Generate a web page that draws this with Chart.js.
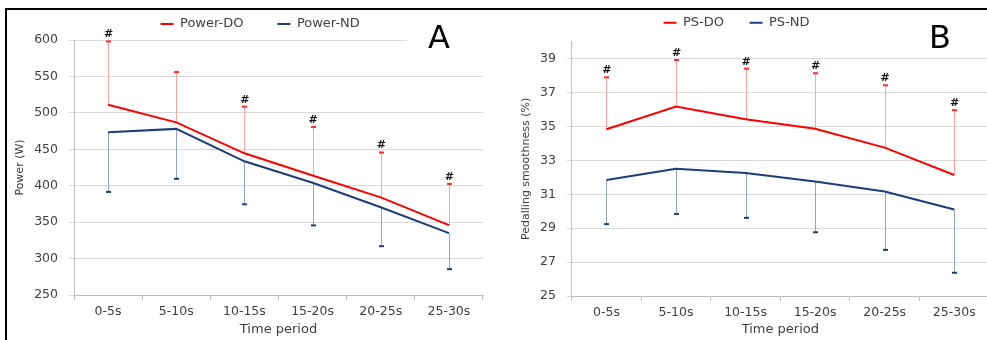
<!DOCTYPE html>
<html>
<head>
<meta charset="utf-8">
<script src="https://cdn.jsdelivr.net/npm/chart.js@4.4.1/dist/chart.umd.min.js"></script>
<style>
  html, body { margin: 0; padding: 0; background: #fff; overflow: hidden; width: 987px; height: 340px; }
  #wrapA { position: absolute; left: 0; top: 0; width: 490px; height: 340px; }
  #wrapB { position: absolute; left: 490px; top: 0; width: 499px; height: 340px; }
  #frameTop { position: absolute; left: 5px; top: 8px; width: 982px; height: 2px; background: #000; z-index: 5; }
  #frameLeft { position: absolute; left: 5px; top: 8px; width: 2px; height: 332px; background: #000; z-index: 5; }
  .panel { position: absolute; font-family: 'DejaVu Sans'; font-size: 32px; line-height: 32px; height: 32px; color: #000; z-index: 4; }
  #labA { left: 407px; top: 21px; width: 55px; padding-left: 21px; background: #fff; }
  #labB { left: 929px; top: 21px; }
</style>
</head>
<body>
<div id="wrapA"><canvas id="chartA"></canvas></div>
<div id="wrapB"><canvas id="chartB"></canvas></div>
<div id="frameTop"></div>
<div id="frameLeft"></div>
<div class="panel" id="labA">A</div>
<div class="panel" id="labB">B</div>
<script>
// ---------- data ----------
const categories = ['0-5s', '5-10s', '10-15s', '15-20s', '20-25s', '25-30s'];

const powerDO      = [511, 487, 444.5, 414, 384, 346];
const powerDOUpper = [598, 556, 508.5, 480.5, 445.5, 402.5];
const powerND      = [473.5, 478, 433.5, 404, 370.5, 335];
const powerNDLower = [391.5, 409.5, 374.5, 345.5, 317, 285.5];
const powerMarks   = ['#', '', '#', '#', '#', '#'];
const powerTicks   = [250, 300, 350, 400, 450, 500, 550, 600];

const psDO      = [34.84, 36.18, 35.43, 34.86, 33.75, 32.14];
const psDOUpper = [37.9, 38.92, 38.41, 38.14, 37.43, 35.96];
const psND      = [31.84, 32.51, 32.25, 31.76, 31.16, 30.10];
const psNDLower = [29.24, 29.84, 29.61, 28.76, 27.72, 26.37];
const psMarks   = ['#', '#', '#', '#', '#', '#'];
const psTicks   = [25, 27, 29, 31, 33, 35, 37, 39];

// ---------- style ----------
const FONT = 'DejaVu Sans';
const TXT = '#404040';
const RED = '#FF0000';
const NAVY = '#1F3C7A';

// error bars + significance marks
const errorBars = {
  id: 'errorBars',
  beforeDatasetsDraw(chart) {
    const ctx = chart.ctx, xs = chart.scales.x, ys = chart.scales.y;
    chart.data.datasets.forEach((ds) => {
      if (!ds.errEnd) return;
      ds.data.forEach((v, i) => {
        const px = Math.round(xs.getPixelForValue(i)) + 0.5;
        const p0 = ys.getPixelForValue(v);
        const p1 = ys.getPixelForValue(ds.errEnd[i]);
        ctx.save();
        ctx.strokeStyle = ds.errColor;
        ctx.lineWidth = 1;
        ctx.beginPath(); ctx.moveTo(px, p0); ctx.lineTo(px, p1); ctx.stroke();
        ctx.strokeStyle = ds.capColor;
        ctx.lineWidth = 2;
        ctx.beginPath(); ctx.moveTo(px - 2.5, p1); ctx.lineTo(px + 2.5, p1); ctx.stroke();
        ctx.restore();
      });
    });
  },
  afterDatasetsDraw(chart) {
    const ctx = chart.ctx, xs = chart.scales.x, ys = chart.scales.y;
    chart.data.datasets.forEach((ds) => {
      if (!ds.marks) return;
      ds.marks.forEach((m, i) => {
        if (!m) return;
        const px = xs.getPixelForValue(i);
        const py = ys.getPixelForValue(ds.errEnd[i]) - 7;
        ctx.save();
        ctx.fillStyle = '#111';
        ctx.font = 'bold 11px "' + FONT + '"';
        ctx.textAlign = 'center';
        ctx.textBaseline = 'middle';
        ctx.fillText(m, px + 0.5, py);
        ctx.restore();
      });
    });
  }
};

// place legend at an exact start position
const legendPlace = {
  id: 'legendPlace',
  afterUpdate(chart, args, opts) {
    const lg = chart.legend;
    if (!lg) return;
    const p = lg.options.labels.padding;
    const fs = lg.options.labels.font.size;
    lg.left = opts.x - p;
    lg.right = lg.left + 2000;
    lg.top = opts.y - p - fs / 2;
    lg.bottom = opts.y + fs + 4;
  }
};

function makeChart(id, cfg) {
  return new Chart(document.getElementById(id), {
    type: 'line',
    data: {
      labels: categories,
      datasets: [
        { label: cfg.names[0], data: cfg.s1, borderColor: RED, backgroundColor: RED, borderWidth: 2,
          pointRadius: 0, tension: 0, errEnd: cfg.e1, errColor: '#FFA3A3', capColor: '#FF2A2A', marks: cfg.marks },
        { label: cfg.names[1], data: cfg.s2, borderColor: NAVY, backgroundColor: NAVY, borderWidth: 2,
          pointRadius: 0, tension: 0, errEnd: cfg.e2, errColor: '#95A3C2', capColor: NAVY }
      ]
    },
    options: {
      responsive: true,
      maintainAspectRatio: false,
      animation: false,
      layout: { padding: { left: cfg.padL, right: cfg.padR, top: 0, bottom: 0 } },
      plugins: {
        tooltip: { enabled: false },
        legend: {
          position: 'top',
          align: 'start',
          maxHeight: cfg.legendH,
          labels: {
            usePointStyle: true,
            pointStyle: 'line',
            pointStyleWidth: 13,
            padding: cfg.legendGap,
            color: TXT,
            font: { family: FONT, size: 13 }
          }
        },
        legendPlace: { x: cfg.legendX, y: cfg.legendY }
      },
      scales: {
        x: {
          type: 'category',
          offset: true,
          grid: { display: true, drawOnChartArea: false, drawTicks: true, tickLength: 5, color: '#BFBFBF', offset: true },
          border: { display: true, color: '#BFBFBF' },
          ticks: { padding: 4, color: TXT, font: { family: FONT, size: 12.5 }, maxRotation: 0, autoSkip: false },
          title: { display: true, text: 'Time period', color: TXT, font: { family: FONT, size: 13 }, padding: { top: 0, bottom: 3 } },
          afterFit: (s) => { s.height = cfg.xH; }
        },
        y: {
          min: cfg.min, max: cfg.max,
          afterBuildTicks: (s) => { s.ticks = cfg.ticks.map(v => ({ value: v })); },
          afterFit: (s) => { s.width = cfg.yW; },
          border: { display: true, color: '#BFBFBF' },
          grid: { color: '#D9D9D9', tickLength: 5, drawTicks: true },
          ticks: { padding: cfg.tickPad, color: TXT, font: { family: FONT, size: 12.5 } },
          title: { display: true, text: cfg.yTitle, color: TXT, font: { family: FONT, size: 11 }, padding: { top: cfg.titlePad, bottom: 0 } }
        }
      }
    },
    plugins: [errorBars, legendPlace]
  });
}

makeChart('chartA', {
  names: ['Power-DO', 'Power-ND'],
  s1: powerDO, e1: powerDOUpper, s2: powerND, e2: powerNDLower, marks: powerMarks,
  ticks: powerTicks, min: 250, max: 600,
  yTitle: 'Power (W)',
  padL: 7, padR: 7, yW: 67, tickPad: 11, titlePad: 6.4, xH: 45,
  legendH: 40, legendGap: 34, legendX: 160.5, legendY: 24
});

makeChart('chartB', {
  names: ['PS-DO', 'PS-ND'],
  s1: psDO, e1: psDOUpper, s2: psND, e2: psNDLower, marks: psMarks,
  ticks: psTicks, min: 25, max: 40,
  yTitle: 'Pedalling smoothness (%)',
  padL: 20, padR: 0, yW: 61.7, tickPad: 10.7, titlePad: 9.4, xH: 44,
  legendH: 41.7, legendGap: 25.5, legendX: 173.5, legendY: 22.7
});
</script>
</body>
</html>
